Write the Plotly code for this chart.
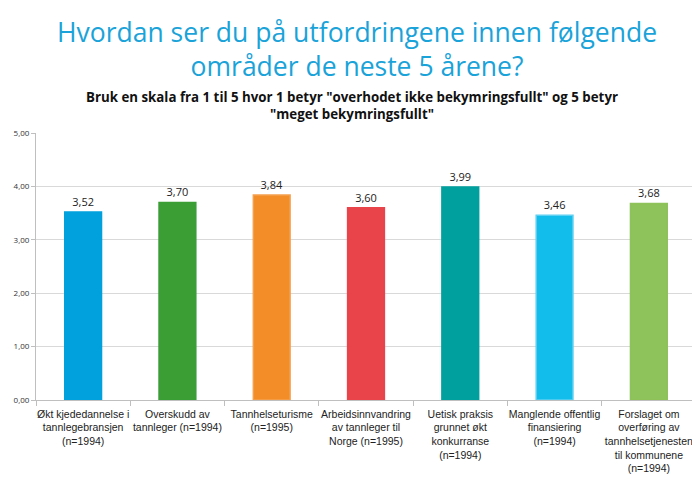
import plotly.graph_objects as go

categories = [
    "Økt kjededannelse i<br>tannlegebransjen<br>(n=1994)",
    "Overskudd av<br>tannleger (n=1994)",
    "Tannhelseturisme<br>(n=1995)",
    "Arbeidsinnvandring<br>av tannleger til<br>Norge (n=1995)",
    "Uetisk praksis<br>grunnet økt<br>konkurranse<br>(n=1994)",
    "Manglende offentlig<br>finansiering<br>(n=1994)",
    "Forslaget om<br>overføring av<br>tannhelsetjenesten<br>til kommunene<br>(n=1994)",
]
values = [3.52, 3.70, 3.84, 3.60, 3.99, 3.46, 3.68]
colors = ["#00A1DD", "#3A9E35", "#F28D27", "#E8444A", "#00A09E", "#12BDEB", "#8EC25A"]
line_colors = ["#00A1DD", "#3A9E35", "#F5A050", "#E8444A", "#00A09E", "#5FD0F2", "#8EC25A"]
y_ticks = [0, 1, 2, 3, 4, 5]

fig = go.Figure(go.Bar(
    x=list(range(len(categories))),
    y=values,
    marker=dict(color=colors, line=dict(color=line_colors, width=1.5)),
    texttemplate="%{y:.2f}",
    textposition="outside",
    textfont=dict(size=11, color="#222222", family="Open Sans"),
    cliponaxis=False,
    width=0.39,
))

# page body has an 8px default margin, so the figure is sized to fit the window
fig.update_layout(
    width=692, height=473,
    margin=dict(l=28, r=4, t=125, b=81),
    paper_bgcolor="white", plot_bgcolor="white",
    separators=", ",
    showlegend=False,
    font=dict(family="Open Sans", color="#333333"),
)
fig.add_annotation(
    text="Hvordan ser du på utfordringene innen følgende<br>områder de neste 5 årene?",
    xref="paper", yref="paper", x=0.486, y=1, yshift=121, xanchor="center", yanchor="top",
    showarrow=False, align="center",
    font=dict(size=26.5, color="#1AA3D9", family="Open Sans"),
)
fig.add_annotation(
    text="<b>Bruk en skala fra 1 til 5 hvor 1 betyr \"overhodet ikke bekymringsfullt\" og 5 betyr<br>\"meget bekymringsfullt\"</b>",
    xref="paper", yref="paper", x=0.479, y=1, yshift=47, xanchor="center", yanchor="top",
    showarrow=False, align="center",
    font=dict(size=13.3, color="#111111", family="Open Sans"),
)

fig.update_yaxes(
    range=[0, 5], tickvals=y_ticks, tickformat=".2f",
    showgrid=True, gridcolor="#D9D9D9", gridwidth=1,
    showline=True, linecolor="#BFBFBF", linewidth=1,
    ticks="outside", ticklen=4, tickcolor="#BFBFBF",
    tickfont=dict(size=8, color="#333333"),
    zeroline=False, automargin=False,
)
fig.update_xaxes(
    range=[-0.5, 6.5],
    tickvals=list(range(len(categories))), ticktext=categories,
    showline=True, linecolor="#BFBFBF", linewidth=1,
    ticks="", showgrid=False,
    tickfont=dict(size=10.5, color="#222222", family="Liberation Sans"),
    tickangle=0, automargin=False, ticklabelstandoff=4,
)
# category boundary tick marks
fig.update_xaxes(minor=dict(tickvals=[i - 0.5 for i in range(len(categories) + 1)],
                            ticks="outside", ticklen=5, tickcolor="#BFBFBF", showgrid=False))

fig.write_html("out.html")
